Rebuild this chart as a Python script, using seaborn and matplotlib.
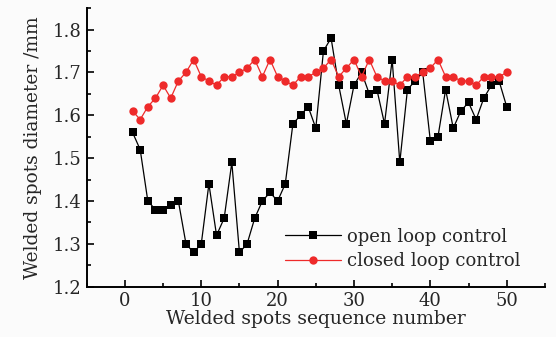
import numpy as np
import pandas as pd
import matplotlib
matplotlib.use("Agg")
import matplotlib.pyplot as plt
from matplotlib.ticker import MultipleLocator
import seaborn as sns

spot_number = list(range(1, 51))

open_loop = [1.56, 1.52, 1.40, 1.38, 1.38, 1.39, 1.40, 1.30, 1.28, 1.30,
             1.44, 1.32, 1.36, 1.49, 1.28, 1.30, 1.36, 1.40, 1.42, 1.40,
             1.44, 1.58, 1.60, 1.62, 1.57, 1.75, 1.78, 1.67, 1.58, 1.67,
             1.70, 1.65, 1.66, 1.58, 1.73, 1.49, 1.66, 1.68, 1.70, 1.54,
             1.55, 1.66, 1.57, 1.61, 1.63, 1.59, 1.64, 1.67, 1.68, 1.62]

closed_loop = [1.61, 1.59, 1.62, 1.64, 1.67, 1.64, 1.68, 1.70, 1.73, 1.69,
               1.68, 1.67, 1.69, 1.69, 1.70, 1.71, 1.73, 1.69, 1.73, 1.69,
               1.68, 1.67, 1.69, 1.69, 1.70, 1.71, 1.73, 1.69, 1.71, 1.73,
               1.69, 1.73, 1.69, 1.68, 1.68, 1.67, 1.69, 1.69, 1.70, 1.71,
               1.73, 1.69, 1.69, 1.68, 1.68, 1.67, 1.69, 1.69, 1.69, 1.70]

series_names = ["open loop control", "closed loop control"]

df = pd.DataFrame({
    "spot": spot_number * 2,
    "diameter": open_loop + closed_loop,
    "mode": [series_names[0]] * 50 + [series_names[1]] * 50,
})

sns.set_theme(style="ticks")
plt.rcParams["font.family"] = ["DejaVu Serif"]
plt.rcParams["mathtext.fontset"] = "dejavuserif"

fig = plt.figure(figsize=(5.56, 3.37), dpi=100, facecolor="#fbfbfb")
ax = fig.add_axes([0.156, 0.149, 0.824, 0.827])
ax.set_facecolor("#fbfbfb")

sns.lineplot(data=df, x="spot", y="diameter", hue="mode", style="mode",
             palette={series_names[0]: "black", series_names[1]: "#ee2a2a"},
             markers={series_names[0]: "s", series_names[1]: "o"},
             dashes=False, markersize=6, markeredgewidth=0, linewidth=0.9,
             ax=ax)

ax.set_xlim(-5, 55)
ax.set_ylim(1.2, 1.85)
ax.set_xticks([0, 10, 20, 30, 40, 50])
ax.set_yticks([1.2, 1.3, 1.4, 1.5, 1.6, 1.7, 1.8])
ax.xaxis.set_minor_locator(MultipleLocator(5))
ax.yaxis.set_minor_locator(MultipleLocator(0.05))
ax.tick_params(which="both", direction="in", labelsize=13, color="black", width=1.2)
ax.tick_params(which="major", length=5)
ax.tick_params(which="minor", length=3)

for side in ["top", "right"]:
    ax.spines[side].set_visible(False)
for side in ["left", "bottom"]:
    ax.spines[side].set_linewidth(1.4)
    ax.spines[side].set_color("black")

ax.set_xlabel("Welded spots sequence number", fontsize=13.5, labelpad=0)
ax.set_ylabel("Welded spots diameter /mm", fontsize=13.4, labelpad=8)

leg = ax.legend(loc="lower right", bbox_to_anchor=(0.974, 0.015), frameon=False,
                fontsize=13, handlelength=3.1, borderaxespad=0.3,
                labelspacing=0.35, handletextpad=0.3)
for line in leg.get_lines():
    line.set_linewidth(0.9)

fig.savefig("out.png", dpi=100, facecolor=fig.get_facecolor())
